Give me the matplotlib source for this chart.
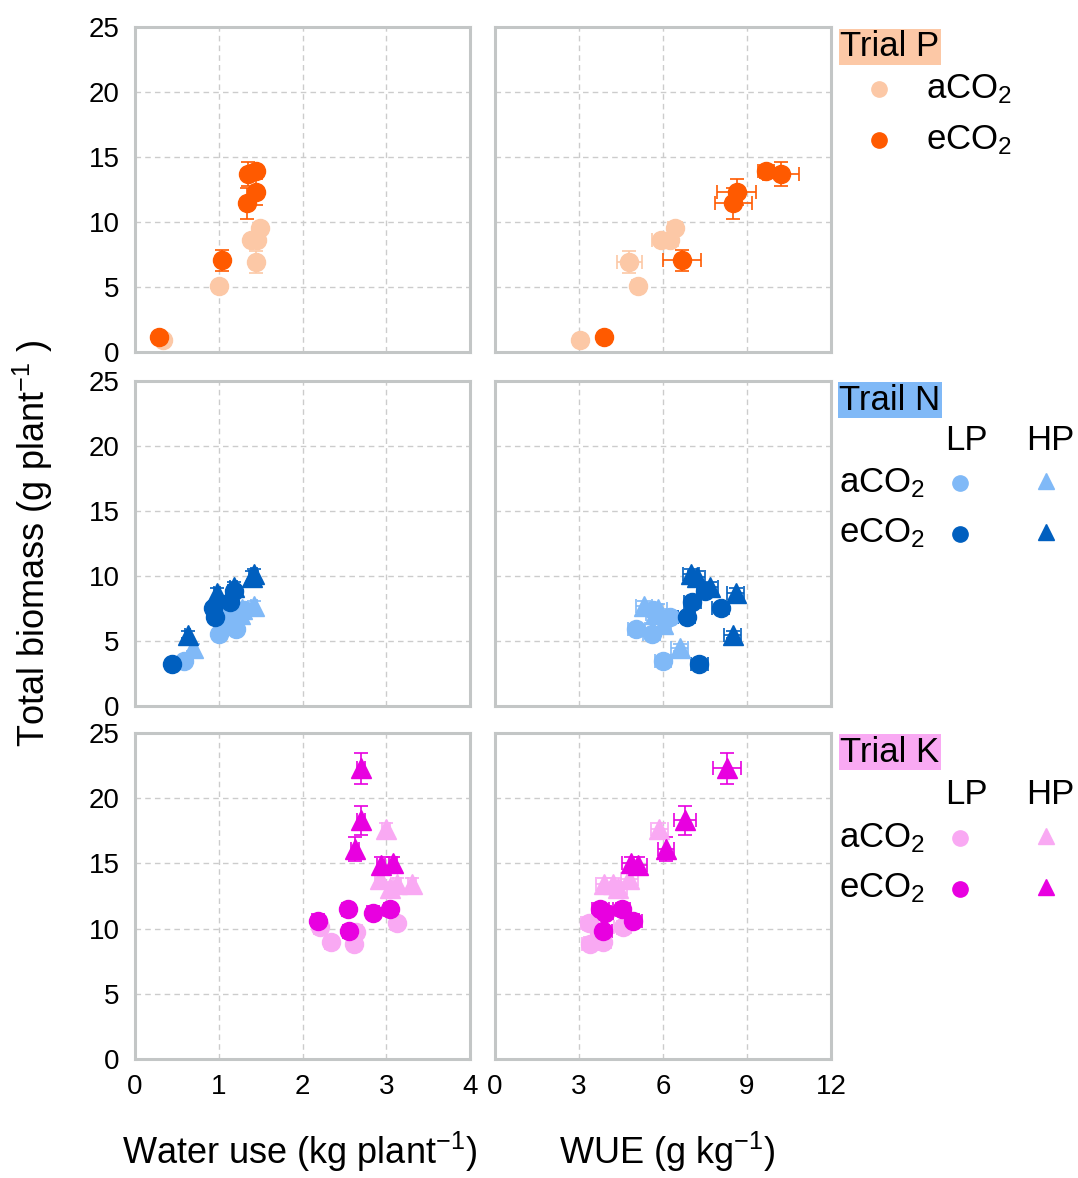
import numpy as np
import matplotlib
matplotlib.use("Agg")
import matplotlib.pyplot as plt

plt.rcParams['font.family'] = ['Liberation Sans', 'DejaVu Sans']
plt.rcParams['mathtext.fontset'] = 'custom'
plt.rcParams['mathtext.rm'] = 'Liberation Sans'
plt.rcParams['mathtext.it'] = 'Liberation Sans:italic'

# colours
c_P_a, c_P_e = '#fcc8a6', '#ff5a00'
c_N_a, c_N_e = '#80b9f7', '#005fbf'
c_K_a, c_K_e = '#f9a9f3', '#e800e0'

# ---- Trial P ----
P_a_water = [0.33, 1.00, 1.44, 1.38, 1.46, 1.49]
P_a_bio = [0.95, 5.1, 6.95, 8.65, 8.65, 9.5]
P_a_wue = [3.05, 5.1, 4.8, 5.92, 6.25, 6.43]
P_a_bio_err = [0.15, 0.25, 0.85, 0.35, 0.35, 0.35]
P_a_water_err = [0.03, 0.02, 0.03, 0.03, 0.03, 0.03]
P_a_wue_err = [0.15, 0.2, 0.45, 0.3, 0.3, 0.25]

P_e_water = [0.29, 1.04, 1.34, 1.44, 1.35, 1.44]
P_e_bio = [1.12, 7.06, 11.45, 12.3, 13.7, 13.9]
P_e_wue = [3.9, 6.68, 8.51, 8.63, 10.2, 9.68]
P_e_bio_err = [0.15, 0.8, 1.2, 1.0, 0.9, 0.5]
P_e_water_err = [0.04, 0.03, 0.05, 0.05, 0.04, 0.04]
P_e_wue_err = [0.15, 0.69, 0.67, 0.7, 0.64, 0.3]

# ---- Trail N ----
N_a_lp_water = [0.58, 1.00, 1.20, 1.10, 1.30]
N_a_lp_bio = [3.45, 5.56, 5.94, 6.88, 7.35]
N_a_lp_wue = [6.0, 5.6, 5.04, 6.25, 5.65]
N_a_hp_water = [0.69, 1.42, 1.28, 1.05, 1.25]
N_a_hp_bio = [4.5, 7.7, 7.47, 6.3, 7.1]
N_a_hp_wue = [6.6, 5.32, 5.83, 6.0, 5.7]

N_e_lp_water = [0.44, 0.95, 1.14, 0.93, 1.18]
N_e_lp_bio = [3.21, 6.83, 8.0, 7.55, 8.87]
N_e_lp_wue = [7.3, 6.85, 7.04, 8.06, 7.5]
N_e_hp_water = [0.63, 1.42, 1.40, 1.18, 0.98]
N_e_hp_bio = [5.5, 10.15, 9.95, 9.13, 8.67]
N_e_hp_wue = [8.49, 7.0, 7.2, 7.68, 8.6]

N_bio_err = [0.3, 0.4, 0.4, 0.4, 0.4]
N_water_err = [0.03, 0.04, 0.04, 0.04, 0.04]
N_wue_err = [0.3, 0.3, 0.3, 0.3, 0.3]

# ---- Trial K ----
K_a_lp_water = [2.21, 2.34, 2.61, 2.64, 3.13]
K_a_lp_bio = [10.1, 8.95, 8.85, 9.75, 10.4]
K_a_lp_wue = [4.56, 3.85, 3.39, 3.72, 3.37]
K_a_hp_water = [3.0, 2.92, 3.13, 3.31, 3.05]
K_a_hp_bio = [17.6, 13.8, 13.4, 13.4, 13.1]
K_a_hp_wue = [5.87, 4.8, 4.2, 3.9, 4.4]

K_e_lp_water = [2.18, 2.54, 2.55, 2.84, 3.05]
K_e_lp_bio = [10.6, 11.5, 9.8, 11.2, 11.5]
K_e_lp_wue = [4.94, 4.52, 3.87, 3.93, 3.76]
K_e_hp_water = [2.7, 2.7, 2.63, 2.94, 3.08]
K_e_hp_bio = [22.3, 18.3, 16.1, 14.9, 15.0]
K_e_hp_wue = [8.27, 6.79, 6.11, 5.12, 4.85]

K_bio_err = [0.5, 0.5, 0.5, 0.5, 0.5]
K_e_hp_bio_err = [1.2, 1.1, 0.9, 0.6, 0.5]
K_water_err = [0.05, 0.05, 0.05, 0.05, 0.05]
K_wue_err = [0.3, 0.3, 0.3, 0.3, 0.3]
K_e_hp_wue_err = [0.5, 0.4, 0.3, 0.3, 0.3]

W, H = 1078, 1178
fig = plt.figure(figsize=(W / 100, H / 100), dpi=100)


def make_ax(x0, y0, x1, y1):
    ax = fig.add_axes([x0 / W, 1 - y1 / H, (x1 - x0) / W, (y1 - y0) / H])
    for s in ax.spines.values():
        s.set_color('#c3c6c6')
        s.set_linewidth(2.2)
    ax.grid(True, ls=(0, (4, 3)), color='#cccccc', lw=1)
    ax.set_axisbelow(True)
    ax.tick_params(length=0, labelsize=20, pad=11)
    ax.set_ylim(0, 25)
    ax.set_yticks([0, 5, 10, 15, 20, 25])
    return ax


def series(ax, x, y, xe, ye, color, marker, ms=13):
    ax.errorbar(x, y, xerr=xe, yerr=ye, fmt=marker, color=color, ms=ms,
                mec=color, elinewidth=1.2, capsize=5, capthick=1.2)


rows = [(27, 352), (381, 706), (733, 1059)]
axes = []
for r, (yt, yb) in enumerate(rows):
    axl = make_ax(135, yt, 470, yb)
    axr = make_ax(495, yt, 831, yb)
    axl.set_xlim(0, 4)
    axl.set_xticks([0, 1, 2, 3, 4])
    axr.set_xlim(0, 12)
    axr.set_xticks([0, 3, 6, 9, 12])
    axr.set_yticklabels([])
    if r < 2:
        axl.set_xticklabels([])
        axr.set_xticklabels([])
    axes.append((axl, axr))

# Trial P
axl, axr = axes[0]
series(axl, P_a_water, P_a_bio, P_a_water_err, P_a_bio_err, c_P_a, 'o')
series(axl, P_e_water, P_e_bio, P_e_water_err, P_e_bio_err, c_P_e, 'o')
series(axr, P_a_wue, P_a_bio, P_a_wue_err, P_a_bio_err, c_P_a, 'o')
series(axr, P_e_wue, P_e_bio, P_e_wue_err, P_e_bio_err, c_P_e, 'o')

# Trail N
axl, axr = axes[1]
series(axl, N_a_lp_water, N_a_lp_bio, N_water_err, N_bio_err, c_N_a, 'o')
series(axl, N_a_hp_water, N_a_hp_bio, N_water_err, N_bio_err, c_N_a, '^', 14)
series(axl, N_e_lp_water, N_e_lp_bio, N_water_err, N_bio_err, c_N_e, 'o')
series(axl, N_e_hp_water, N_e_hp_bio, N_water_err, N_bio_err, c_N_e, '^', 14)
series(axr, N_a_lp_wue, N_a_lp_bio, N_wue_err, N_bio_err, c_N_a, 'o')
series(axr, N_a_hp_wue, N_a_hp_bio, N_wue_err, N_bio_err, c_N_a, '^', 14)
series(axr, N_e_lp_wue, N_e_lp_bio, N_wue_err, N_bio_err, c_N_e, 'o')
series(axr, N_e_hp_wue, N_e_hp_bio, N_wue_err, N_bio_err, c_N_e, '^', 14)

# Trial K
axl, axr = axes[2]
series(axl, K_a_lp_water, K_a_lp_bio, K_water_err, K_bio_err, c_K_a, 'o')
series(axl, K_a_hp_water, K_a_hp_bio, K_water_err, K_bio_err, c_K_a, '^', 14)
series(axl, K_e_lp_water, K_e_lp_bio, K_water_err, K_bio_err, c_K_e, 'o')
series(axl, K_e_hp_water, K_e_hp_bio, K_water_err, K_e_hp_bio_err, c_K_e, '^', 14)
series(axr, K_a_lp_wue, K_a_lp_bio, K_wue_err, K_bio_err, c_K_a, 'o')
series(axr, K_a_hp_wue, K_a_hp_bio, K_wue_err, K_bio_err, c_K_a, '^', 14)
series(axr, K_e_lp_wue, K_e_lp_bio, K_wue_err, K_bio_err, c_K_e, 'o')
series(axr, K_e_hp_wue, K_e_hp_bio, K_e_hp_wue_err, K_e_hp_bio_err, c_K_e, '^', 14)

# axis labels
fig.text(300 / W, 1 - 1152 / H, 'Water use (kg plant$^{-1}$)', fontsize=26,
         ha='center', va='center')
fig.text(667 / W, 1 - 1152 / H, 'WUE (g kg$^{-1}$)', fontsize=26,
         ha='center', va='center')
fig.text(33 / W, 1 - 543 / H, 'Total biomass (g plant$^{-1}$ )', fontsize=26,
         ha='center', va='center', rotation=90)

# legends drawn on an overlay in pixel coordinates
ov = fig.add_axes([0, 0, 1, 1], zorder=10)
ov.set_xlim(0, W)
ov.set_ylim(H, 0)
ov.axis('off')
ov.patch.set_alpha(0)

fs = 25
ov.text(890, 47, 'Trial P', fontsize=fs, ha='center', va='center',
        bbox=dict(facecolor=c_P_a, edgecolor='none', pad=1))
ov.plot([879], [89], 'o', color=c_P_a, ms=11)
ov.plot([879], [140], 'o', color=c_P_e, ms=11)
ov.text(926, 89, 'aCO$_2$', fontsize=fs, ha='left', va='center')
ov.text(926, 140, 'eCO$_2$', fontsize=fs, ha='left', va='center')

for (title, ty, cl, cd, dy) in [('Trail N', 400, c_N_a, c_N_e, 0),
                                 ('Trial K', 752, c_K_a, c_K_e, 355)]:
    ov.text(890, ty, title, fontsize=fs, ha='center', va='center',
            bbox=dict(facecolor=cl, edgecolor='none', pad=1))
    ov.text(966, 440 + dy, 'LP', fontsize=fs, ha='center', va='center')
    ov.text(1050, 440 + dy, 'HP', fontsize=fs, ha='center', va='center')
    ov.text(839, 483 + dy, 'aCO$_2$', fontsize=fs, ha='left', va='center')
    ov.text(839, 533 + dy, 'eCO$_2$', fontsize=fs, ha='left', va='center')
    ov.plot([960], [483 + dy], 'o', color=cl, ms=11)
    ov.plot([1046], [481 + dy], '^', color=cl, ms=12)
    ov.plot([960], [534 + dy], 'o', color=cd, ms=11)
    ov.plot([1046], [532 + dy], '^', color=cd, ms=12)

fig.savefig('out.png', dpi=100)
